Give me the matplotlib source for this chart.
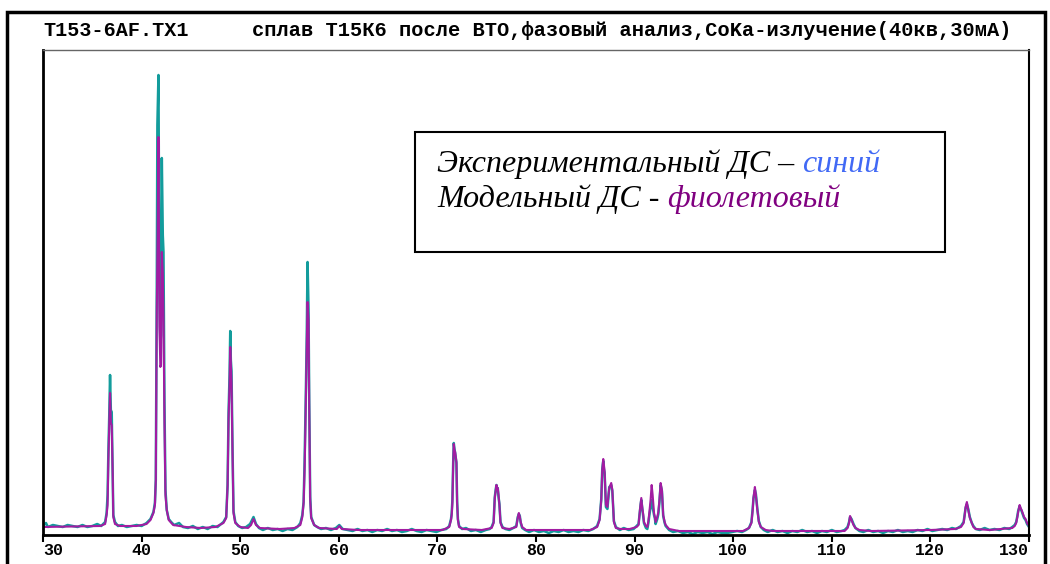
import numpy as np
import matplotlib
matplotlib.use("Agg")
import matplotlib.pyplot as plt
from matplotlib.patches import Rectangle

#========================================================
# Diffraction pattern (2theta, intensity in arb. units)
#========================================================

# model pattern (violet)
model_2theta = [30.0, 35.8, 36.3, 36.45, 36.55, 36.63, 36.72, 36.8, 36.88, 36.97, 37.07, 37.13, 37.3, 37.8,
                39.5, 40.5, 40.9, 41.2, 41.35, 41.44, 41.54, 41.63, 41.71, 41.81, 41.9, 41.97, 42.05, 42.15,
                42.22, 42.32, 42.42, 42.55, 42.75, 43.2, 44.5, 46.0, 47.5, 48.3, 48.58, 48.72, 48.82, 48.92,
                48.99, 49.05, 49.12, 49.22, 49.32, 49.5, 50.0, 50.8, 51.1, 51.35, 51.6, 52.0, 54.0, 55.5,
                56.1, 56.3, 56.43, 56.53, 56.6, 56.67, 56.75, 56.83, 56.93, 57.0, 57.1, 57.2, 57.5, 58.0,
                59.8, 60.05, 60.3, 62.0, 70.5, 71.2, 71.38, 71.45, 71.52, 71.6, 71.66, 71.73, 71.8, 71.93,
                72.0, 72.08, 72.2, 72.6, 74.5, 75.5, 75.7, 75.82, 75.92, 75.99, 76.05, 76.12, 76.2, 76.29,
                76.4, 76.6, 77.3, 78.0, 78.15, 78.26, 78.36, 78.45, 78.6, 79.0, 85.5, 86.2, 86.45, 86.62,
                86.72, 86.82, 86.89, 86.96, 87.09, 87.24, 87.35, 87.43, 87.55, 87.63, 87.74, 87.82, 87.9,
                88.1, 88.6, 89.5, 90.2, 90.4, 90.54, 90.62, 90.68, 90.78, 90.88, 90.95, 91.15, 91.29, 91.4,
                91.5, 91.62, 91.73, 91.83, 91.97, 92.05, 92.13, 92.3, 92.41, 92.52, 92.64, 92.77, 92.9,
                93.05, 93.15, 93.5, 94.5, 101.0, 101.6, 101.85, 101.98, 102.05, 102.12, 102.2, 102.3,
                102.45, 102.6, 102.8, 103.3, 104.0, 111.3, 111.6, 111.75, 111.85, 112.0, 112.2, 112.4,
                112.8, 114.0, 120.0, 122.5, 123.1, 123.37, 123.48, 123.57, 123.7, 123.84, 124.0, 124.2,
                124.36, 124.6, 126.0, 128.3, 128.55, 128.7, 128.82, 128.9, 129.05, 129.15, 129.25, 129.5,
                129.65, 129.8, 130.0]
model_counts = [8, 9, 11, 20, 30, 75, 110, 142, 112, 110, 60, 18, 11, 9,
                9, 11, 15, 22, 30, 55, 225, 300, 398, 208, 168, 170, 283, 262,
                218, 112, 40, 25, 15, 10, 8, 7, 8, 12, 17, 49, 117, 150,
                188, 170, 152, 82, 22, 12, 8, 7, 10, 16, 10, 7, 6, 7,
                10, 18, 32, 65, 100, 143, 190, 233, 215, 130, 35, 17, 10, 7,
                6, 9, 6, 5, 5, 8, 15, 20, 32, 70, 91, 85, 83, 73,
                32, 15, 8, 6, 5, 7, 12, 37, 45, 50, 46, 47, 40, 30,
                12, 7, 6, 8, 17, 22, 18, 13, 8, 5, 5, 8, 15, 35,
                65, 76, 70, 63, 30, 28, 40, 47, 50, 52, 45, 30, 13,
                7, 6, 6, 8, 10, 25, 32, 37, 27, 20, 13, 9, 8, 14,
                23, 35, 50, 40, 22, 18, 13, 18, 23, 35, 52, 45, 20,
                13, 10, 6, 4, 4, 7, 12, 25, 37, 42, 48, 40,
                25, 13, 8, 5, 4, 4, 7, 12, 19, 15, 10, 7,
                5, 4, 5, 6, 8, 12, 20, 28, 33, 25, 17, 12,
                8, 6, 5, 7, 9, 12, 18, 23, 30, 27, 25, 18,
                16, 12, 9]

# experimental pattern (blue-green)
exp_2theta = [30.0, 30.3, 30.5, 31.0, 31.5, 32.0, 32.5, 33.0, 33.5, 34.0, 34.5, 35.0, 35.5, 35.9,
              36.3, 36.45, 36.55, 36.63, 36.72, 36.8, 36.88, 36.97, 37.07, 37.13, 37.3, 37.6, 38.0,
              38.5, 39.0, 39.5, 40.0, 40.5, 40.9, 41.2, 41.35, 41.44, 41.54, 41.6, 41.71, 41.81, 41.9,
              41.97, 42.05, 42.15, 42.22, 42.32, 42.42, 42.55, 42.75, 43.0, 43.3, 43.8, 44.2, 44.7,
              45.2, 45.7, 46.2, 46.7, 47.2, 47.7, 48.3, 48.58, 48.72, 48.82, 48.92, 48.99, 49.05, 49.12,
              49.22, 49.32, 49.5, 49.8, 50.2, 50.6, 51.0, 51.35, 51.6, 51.9, 52.3, 52.8, 53.3, 53.8,
              54.3, 54.8, 55.3, 55.8, 56.1, 56.3, 56.43, 56.53, 56.6, 56.67, 56.75, 56.83, 56.93, 57.0,
              57.1, 57.2, 57.5, 57.8, 58.2, 58.7, 59.2, 59.7, 60.05, 60.4, 60.9, 61.4, 61.9, 62.4,
              62.9, 63.4, 63.9, 64.4, 64.9, 65.4, 65.9, 66.4, 66.9, 67.4, 67.9, 68.4, 68.9, 69.4,
              69.9, 70.4, 70.9, 71.2, 71.38, 71.45, 71.52, 71.6, 71.66, 71.73, 71.8, 71.93, 72.0, 72.08,
              72.2, 72.5, 72.9, 73.4, 73.9, 74.4, 74.9, 75.3, 75.5, 75.7, 75.82, 75.92, 75.99, 76.05,
              76.12, 76.2, 76.29, 76.4, 76.6, 76.9, 77.3, 77.7, 78.0, 78.15, 78.26, 78.36, 78.45, 78.6,
              78.9, 79.3, 79.8, 80.3, 80.8, 81.3, 81.8, 82.3, 82.8, 83.3, 83.8, 84.3, 84.8, 85.3,
              85.8, 86.2, 86.45, 86.62, 86.72, 86.82, 86.89, 86.96, 87.09, 87.24, 87.35, 87.43, 87.55,
              87.63, 87.74, 87.82, 87.9, 88.1, 88.5, 88.9, 89.4, 89.9, 90.2, 90.4, 90.54, 90.62, 90.68,
              90.78, 90.88, 90.95, 91.15, 91.29, 91.4, 91.5, 91.62, 91.73, 91.83, 91.97, 92.05, 92.13,
              92.3, 92.41, 92.52, 92.64, 92.77, 92.9, 93.05, 93.15, 93.5, 93.9, 94.4, 94.9, 95.4, 95.9,
              96.4, 96.9, 97.4, 97.9, 98.4, 98.9, 99.4, 99.9, 100.4, 100.9, 101.3, 101.6, 101.85,
              101.98, 102.05, 102.12, 102.2, 102.3, 102.45, 102.6, 102.8, 103.1, 103.5, 104.0, 104.5,
              105.0, 105.5, 106.0, 106.5, 107.0, 107.5, 108.0, 108.5, 109.0, 109.5, 110.0, 110.5, 111.0,
              111.3, 111.6, 111.75, 111.85, 112.0, 112.2, 112.4, 112.8, 113.2, 113.7, 114.2, 114.7,
              115.2, 115.7, 116.2, 116.7, 117.2, 117.7, 118.2, 118.7, 119.2, 119.7, 120.2, 120.7,
              121.2, 121.7, 122.2, 122.6, 123.1, 123.37, 123.48, 123.57, 123.7, 123.84, 124.0, 124.2,
              124.36, 124.6, 125.0, 125.5, 126.0, 126.5, 127.0, 127.5, 128.0, 128.3, 128.55, 128.7,
              128.82, 128.9, 129.05, 129.15, 129.25, 129.5, 129.65, 129.8, 130.0]
exp_counts = [9, 12, 8, 10, 9, 8, 10, 9, 8, 10, 8, 9, 11, 9,
              13, 22, 40, 83, 120, 160, 125, 123, 60, 20, 13, 9, 10,
              8, 9, 10, 9, 12, 16, 23, 32, 55, 250, 410, 460, 242, 190,
              200, 377, 300, 283, 132, 45, 25, 16, 13, 10, 12, 8, 7,
              9, 6, 8, 6, 9, 8, 13, 18, 50, 123, 160, 204, 175, 164,
              88, 24, 13, 9, 7, 8, 11, 18, 11, 7, 5, 7, 5, 6,
              4, 6, 5, 8, 12, 20, 33, 73, 110, 150, 200, 273, 226, 135,
              38, 18, 10, 8, 6, 7, 5, 7, 10, 6, 5, 4, 6, 4,
              5, 3, 5, 4, 6, 4, 5, 3, 4, 6, 4, 3, 5, 4,
              3, 5, 6, 9, 16, 22, 35, 72, 92, 86, 82, 72, 34, 16,
              9, 6, 7, 4, 5, 3, 5, 6, 8, 13, 38, 46, 50, 44,
              47, 38, 31, 13, 8, 6, 5, 7, 9, 18, 21, 19, 12, 7,
              5, 3, 5, 3, 4, 2, 4, 3, 5, 3, 4, 3, 5, 4,
              6, 9, 16, 36, 66, 74, 66, 62, 28, 26, 38, 48, 49,
              50, 44, 29, 14, 8, 5, 7, 5, 6, 9, 11, 24, 31, 35,
              26, 18, 12, 7, 6, 12, 20, 28, 35, 28, 20, 17, 11,
              16, 21, 33, 50, 44, 19, 12, 9, 5, 3, 4, 2, 3, 1,
              3, 2, 3, 1, 3, 2, 2, 3, 4, 3, 5, 7, 13,
              27, 36, 40, 45, 41, 26, 14, 8, 5, 3, 5, 3,
              4, 2, 4, 3, 5, 3, 4, 2, 4, 3, 5, 3, 4,
              5, 8, 13, 18, 16, 11, 7, 4, 3, 5, 3, 4,
              2, 4, 3, 5, 3, 4, 3, 5, 4, 6, 4, 5,
              6, 5, 7, 6, 9, 13, 21, 27, 31, 26, 18, 12,
              9, 6, 5, 7, 5, 6, 5, 7, 6, 8, 10, 13,
              19, 24, 29, 26, 24, 17, 15, 11, 8]

xticks = [30, 40, 50, 60, 70, 80, 90, 100, 110, 120, 130]

file_label = "T153-6AF.TX1"
title_label = "сплав Т15К6 после ВТО,фазовый анализ,CoKa-излучение(40кв,30мА)"

#========================================================
# Figure
#========================================================
W, H = 1050, 564
fig = plt.figure(figsize=(W / 100, H / 100), dpi=100)
fig.patch.set_facecolor("white")

# outer black frame of the printout
fig.add_artist(Rectangle((7 / W, -0.1), (1045 - 7) / W, 1.1 - 12 / H, transform=fig.transFigure,
                         fill=False, edgecolor="black", linewidth=2.5))

ax = fig.add_axes([43 / W, (H - 535) / H, (1029 - 43) / W, (535 - 50) / H])
ax.plot(exp_2theta, exp_counts, color="#139c9c", linewidth=1.8)
ax.plot(model_2theta, model_counts, color="#a21ca2", linewidth=1.5)

ax.set_xlim(30, 130)
ax.set_ylim(0, 485)
ax.set_xticks(xticks)
ax.set_xticklabels([str(t) for t in xticks], fontfamily="Liberation Mono", fontweight="bold", fontsize=12)
# end labels are kept inside the frame, as on the printout
labels = ax.get_xticklabels()
labels[0].set_horizontalalignment("left")
labels[-1].set_horizontalalignment("right")
ax.set_yticks([])
ax.tick_params(axis="x", direction="out", length=5, width=1.5, pad=0.5)
ax.spines["left"].set_linewidth(2)
ax.spines["bottom"].set_linewidth(2)
ax.spines["right"].set_linewidth(1.5)
ax.spines["top"].set_linewidth(1)
ax.spines["top"].set_color("#666666")

# header of the printout
fig.text(43 / W, (H - 31) / H, file_label, fontfamily="Liberation Mono", fontweight="bold",
         fontsize=14.5, va="center", ha="left")
fig.text(252 / W, (H - 31) / H, title_label, fontfamily="Liberation Mono", fontweight="bold",
         fontsize=14.7, va="center", ha="left")

#========================================================
# Legend box with coloured words
fig.add_artist(Rectangle((415 / W, (H - 252) / H), 530 / W, 120 / H, transform=fig.transFigure,
                         facecolor="white", edgecolor="black", linewidth=1.5, zorder=5))

legend_lines = [
    [("Экспериментальный ДС – ", "black"), ("синий", "#4169f5")],
    [("Модельный ДС - ", "black"), ("фиолетовый", "#800080")],
]
baselines = [172, 207]
renderer = fig.canvas.get_renderer()
for parts, yb in zip(legend_lines, baselines):
    x = 437 / W
    for txt, col in parts:
        t = fig.text(x, (H - yb) / H, txt, color=col, fontfamily="Liberation Serif", style="italic",
                     fontsize=23, va="baseline", ha="left", zorder=6)
        bb = t.get_window_extent(renderer=renderer)
        x = bb.x1 / W

plt.savefig("out.png", dpi=100)
